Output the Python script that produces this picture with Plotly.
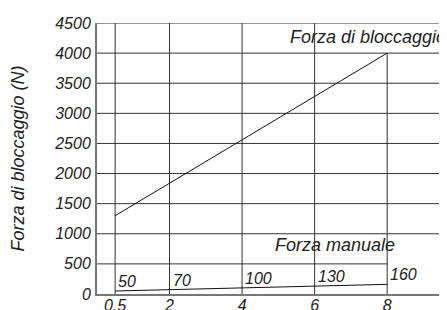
import plotly.graph_objects as go

# Data
corsa = [0.5, 2, 4, 6, 8]                       # x positions (tick values)
forza_bloccaggio = [1300, 1840, 2560, 3280, 4000]  # N
forza_manuale = [50, 70, 100, 130, 160]            # N
manuale_labels = ["50", "70", "100", "130", "160"]
x_ticks = [0.5, 2, 4, 6, 8]
x_tick_labels = ["0.5", "2", "4", "6", "8"]
y_ticks = [0, 500, 1000, 1500, 2000, 2500, 3000, 3500, 4000, 4500]
y_tick_labels = [str(v) for v in y_ticks]

X_MAX = 9.87
Y_MAX = 4500

FONT = "Liberation Sans, Arial, sans-serif"
TXT = "#222222"

fig = go.Figure()

fig.add_trace(go.Scatter(x=corsa, y=forza_bloccaggio, mode="lines",
                         line=dict(color="#111111", width=1), showlegend=False))
fig.add_trace(go.Scatter(x=corsa, y=forza_manuale, mode="lines",
                         line=dict(color="#111111", width=1), showlegend=False))

# grid lines (partial, as in the drawing)
shapes = []
for xv in x_ticks:
    top = max(forza_bloccaggio) if xv == x_ticks[-1] else Y_MAX
    shapes.append(dict(type="line", xref="x", yref="y", x0=xv, x1=xv, y0=0, y1=top,
                       line=dict(color="#333333", width=1), layer="below"))
for yv in y_ticks[1:]:
    right = x_ticks[-1] if yv == 500 else X_MAX
    shapes.append(dict(type="line", xref="x", yref="y", x0=0, x1=right, y0=yv, y1=yv,
                       line=dict(color="#333333", width=1), layer="below"))

annotations = []
for xv, yv, lab in zip(corsa, forza_manuale, manuale_labels):
    annotations.append(dict(x=xv, y=yv, xref="x", yref="y", text=lab, showarrow=False,
                            xanchor="left", yanchor="bottom", xshift=1, yshift=-1,
                            font=dict(family=FONT, size=16, color=TXT, style="italic")))
annotations.append(dict(x=6.56, y=810, xref="x", yref="y", text="Forza manuale",
                        showarrow=False, xanchor="center", yanchor="middle",
                        font=dict(family=FONT, size=18, color=TXT, style="italic")))
annotations.append(dict(x=5.27, y=4270, xref="x", yref="y", text="Forza di bloccaggio",
                        showarrow=False, xanchor="left", yanchor="middle",
                        font=dict(family=FONT, size=18, color=TXT, style="italic")))
annotations.append(dict(x=0, y=0.5, xref="paper", yref="paper", xshift=-80,
                        text="Forza di bloccaggio (N)", textangle=-90, showarrow=False,
                        xanchor="center", yanchor="middle",
                        font=dict(family=FONT, size=18, color=TXT, style="italic")))

fig.update_layout(
    width=447, height=310,
    margin=dict(l=89, r=0, t=15, b=24),
    paper_bgcolor="white", plot_bgcolor="white",
    shapes=shapes, annotations=annotations,
    xaxis=dict(range=[0, X_MAX], tickvals=x_ticks, ticktext=x_tick_labels,
               showgrid=False, zeroline=False, showline=True, linecolor="#777777",
               linewidth=2, ticks="", ticklabelstandoff=-4, automargin=False,
               tickfont=dict(family=FONT, size=16, color=TXT, style="italic")),
    yaxis=dict(range=[0, Y_MAX], tickvals=y_ticks, ticktext=y_tick_labels,
               showgrid=False, zeroline=False, showline=True, linecolor="#777777",
               linewidth=2, ticks="", ticklabelstandoff=1, automargin=False,
               tickfont=dict(family=FONT, size=16, color=TXT, style="italic")),
)

fig.write_html("out.html")
